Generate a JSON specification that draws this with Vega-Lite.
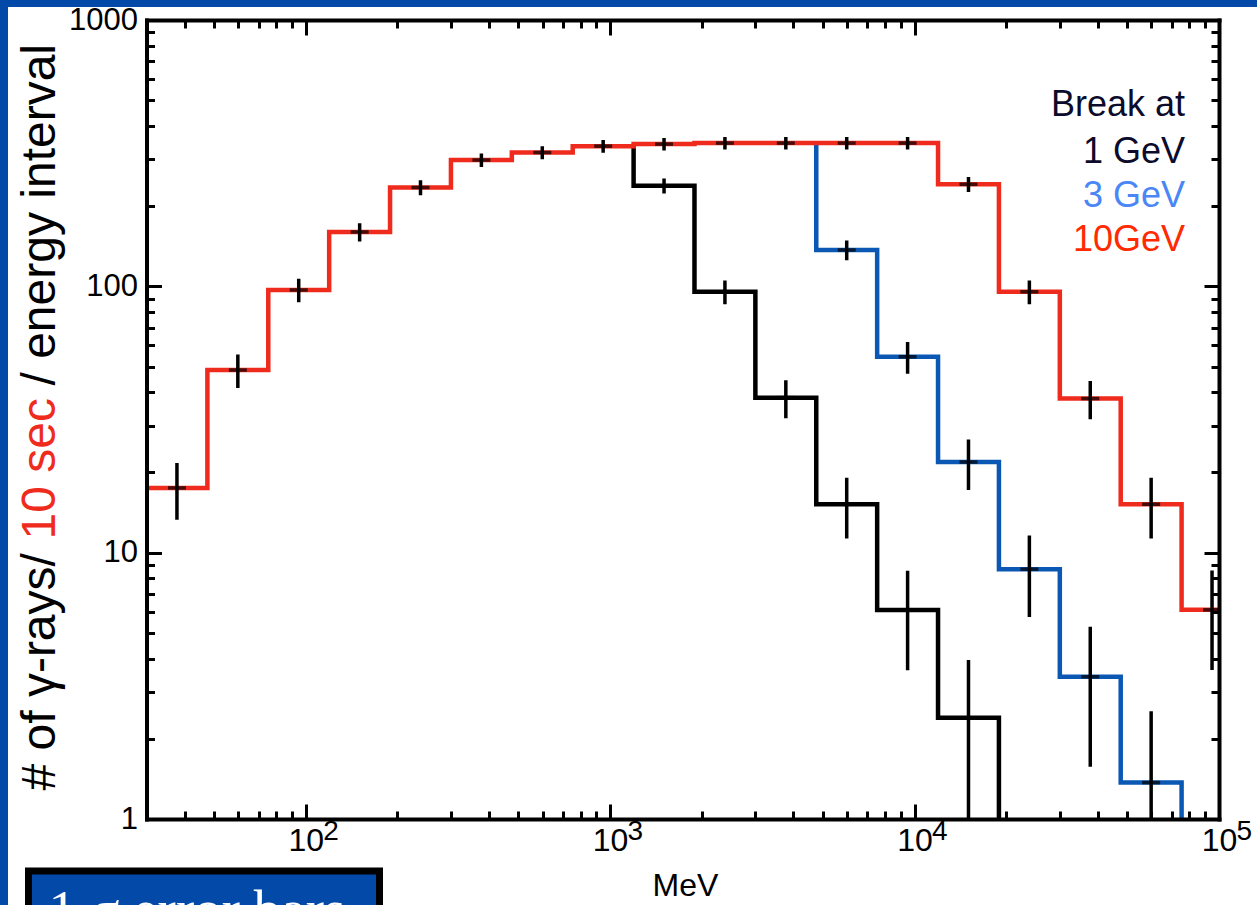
{
  "$schema": "https://vega.github.io/schema/vega-lite/v6.json",
  "width": 1249,
  "height": 898,
  "autosize": {"type": "none"},
  "padding": {"left": 8, "top": 7, "right": 0, "bottom": 0},
  "background": "#0349a8",
  "view": {"fill": "white", "stroke": null},
  "datasets": {
    "lines": [
      {"series": "1 GeV", "i": 0, "E": 1194.3, "N": 342},
      {"series": "1 GeV", "i": 1, "E": 1194.3, "N": 238.6},
      {"series": "1 GeV", "i": 2, "E": 1892.8, "N": 95.4},
      {"series": "1 GeV", "i": 3, "E": 3000, "N": 38.2},
      {"series": "1 GeV", "i": 4, "E": 4754.7, "N": 15.2},
      {"series": "1 GeV", "i": 5, "E": 7535.7, "N": 6.09},
      {"series": "1 GeV", "i": 6, "E": 11943, "N": 2.4},
      {"series": "1 GeV", "i": 7, "E": 18928, "N": 1},
      {"series": "3 GeV", "i": 0, "E": 4754.7, "N": 345},
      {"series": "3 GeV", "i": 1, "E": 4754.7, "N": 136.9},
      {"series": "3 GeV", "i": 2, "E": 7535.7, "N": 54.4},
      {"series": "3 GeV", "i": 3, "E": 11943, "N": 21.9},
      {"series": "3 GeV", "i": 4, "E": 18928, "N": 8.67},
      {"series": "3 GeV", "i": 5, "E": 30000, "N": 3.42},
      {"series": "3 GeV", "i": 6, "E": 47547, "N": 1.37},
      {"series": "3 GeV", "i": 7, "E": 75357, "N": 1},
      {"series": "10GeV", "i": 0, "E": 30, "N": 17.5},
      {"series": "10GeV", "i": 1, "E": 47.55, "N": 48.5},
      {"series": "10GeV", "i": 2, "E": 75.36, "N": 96.9},
      {"series": "10GeV", "i": 3, "E": 119.43, "N": 160},
      {"series": "10GeV", "i": 4, "E": 189.28, "N": 235},
      {"series": "10GeV", "i": 5, "E": 300, "N": 298},
      {"series": "10GeV", "i": 6, "E": 475.47, "N": 318},
      {"series": "10GeV", "i": 7, "E": 753.57, "N": 336},
      {"series": "10GeV", "i": 8, "E": 1194.3, "N": 342},
      {"series": "10GeV", "i": 9, "E": 1892.8, "N": 345},
      {"series": "10GeV", "i": 10, "E": 3000, "N": 345},
      {"series": "10GeV", "i": 11, "E": 4754.7, "N": 345},
      {"series": "10GeV", "i": 12, "E": 7535.7, "N": 345},
      {"series": "10GeV", "i": 13, "E": 11943, "N": 241.6},
      {"series": "10GeV", "i": 14, "E": 18928, "N": 95.4},
      {"series": "10GeV", "i": 15, "E": 30000, "N": 37.9},
      {"series": "10GeV", "i": 16, "E": 47547, "N": 15.2},
      {"series": "10GeV", "i": 17, "E": 75357, "N": 6.1},
      {"series": "10GeV", "i": 18, "E": 100000, "N": 6.1}
    ],
    "errs": [
      {"kind": "1 σ error bars", "c": 37.77, "N": 17.5, "lo": 13.3, "hi": 21.7},
      {"kind": "1 σ error bars", "c": 59.86, "N": 48.5, "lo": 41.5, "hi": 55.5},
      {"kind": "1 σ error bars", "c": 94.87, "N": 96.9, "lo": 87.1, "hi": 106.7},
      {"kind": "1 σ error bars", "c": 150.4, "N": 160, "lo": 147.4, "hi": 172.6},
      {"kind": "1 σ error bars", "c": 238.3, "N": 235, "lo": 219.7, "hi": 250.3},
      {"kind": "1 σ error bars", "c": 377.7, "N": 298, "lo": 280.7, "hi": 315.3},
      {"kind": "1 σ error bars", "c": 598.6, "N": 318, "lo": 300.2, "hi": 335.8},
      {"kind": "1 σ error bars", "c": 948.7, "N": 336, "lo": 317.7, "hi": 354.3},
      {"kind": "1 σ error bars", "c": 1503.6, "N": 342, "lo": 323.5, "hi": 360.5},
      {"kind": "1 σ error bars", "c": 2383, "N": 345, "lo": 326.4, "hi": 363.6},
      {"kind": "1 σ error bars", "c": 3777, "N": 345, "lo": 326.4, "hi": 363.6},
      {"kind": "1 σ error bars", "c": 5986, "N": 345, "lo": 326.4, "hi": 363.6},
      {"kind": "1 σ error bars", "c": 9487, "N": 345, "lo": 326.4, "hi": 363.6},
      {"kind": "1 σ error bars", "c": 15036, "N": 241.6, "lo": 226.1, "hi": 257.1},
      {"kind": "1 σ error bars", "c": 23830, "N": 95.4, "lo": 85.6, "hi": 105.2},
      {"kind": "1 σ error bars", "c": 37768, "N": 37.9, "lo": 31.7, "hi": 44.1},
      {"kind": "1 σ error bars", "c": 59857, "N": 15.2, "lo": 11.3, "hi": 19.1},
      {"kind": "1 σ error bars", "c": 94868, "N": 6.1, "lo": 3.63, "hi": 8.57},
      {"kind": "1 σ error bars", "c": 1503.6, "N": 238.6, "lo": 223.2, "hi": 254.0},
      {"kind": "1 σ error bars", "c": 2383, "N": 95.4, "lo": 85.6, "hi": 105.2},
      {"kind": "1 σ error bars", "c": 3777, "N": 38.2, "lo": 32.0, "hi": 44.4},
      {"kind": "1 σ error bars", "c": 5986, "N": 15.2, "lo": 11.3, "hi": 19.1},
      {"kind": "1 σ error bars", "c": 9487, "N": 6.09, "lo": 3.62, "hi": 8.56},
      {"kind": "1 σ error bars", "c": 15036, "N": 2.4, "lo": 1, "hi": 3.95},
      {"kind": "1 σ error bars", "c": 5986, "N": 136.9, "lo": 125.2, "hi": 148.6},
      {"kind": "1 σ error bars", "c": 9487, "N": 54.4, "lo": 47.0, "hi": 61.8},
      {"kind": "1 σ error bars", "c": 15036, "N": 21.9, "lo": 17.2, "hi": 26.6},
      {"kind": "1 σ error bars", "c": 23830, "N": 8.67, "lo": 5.73, "hi": 11.6},
      {"kind": "1 σ error bars", "c": 37768, "N": 3.42, "lo": 1.57, "hi": 5.27},
      {"kind": "1 σ error bars", "c": 59857, "N": 1.37, "lo": 1, "hi": 2.54}
    ]
  },
  "layer": [
    {
      "data": {"name": "lines"},
      "transform": [{"filter": "datum.series == '1 GeV'"}],
      "mark": {"type": "line", "interpolate": "step-after", "strokeWidth": 4.5, "strokeCap": "butt", "strokeJoin": "miter"},
      "encoding": {
        "x": {"field": "E", "type": "quantitative", "scale": {"type": "log", "domain": [30, 100000], "range": [138.5, 1211], "nice": false},
          "axis": {"orient": "bottom", "offset": -86, "values": [40,50,60,70,80,90,100,200,300,400,500,600,700,800,900,1000,2000,3000,4000,5000,6000,7000,8000,9000,10000,20000,30000,40000,50000,60000,70000,80000,90000,100000],
            "labels": false, "title": null, "domain": true, "domainWidth": 4, "domainCap": "square", "ticks": true, "tickWidth": 3,
            "tickSize": {"condition": {"test": "abs(log(datum.value)/LN10 - round(log(datum.value)/LN10)) < 0.001", "value": -15}, "value": -8}, "zindex": 2}},
        "y": {"field": "N", "type": "quantitative", "scale": {"type": "log", "domain": [1, 1000], "range": [812, 13], "nice": false},
          "axis": {"orient": "left", "offset": -138.5, "values": [1,2,3,4,5,6,7,8,9,10,20,30,40,50,60,70,80,90,100,200,300,400,500,600,700,800,900,1000],
            "labels": false, "title": null, "domain": true, "domainWidth": 4, "domainCap": "square", "ticks": true, "tickWidth": 3,
            "tickSize": {"condition": {"test": "abs(log(datum.value)/LN10 - round(log(datum.value)/LN10)) < 0.001", "value": -15}, "value": -8}, "zindex": 2}},
        "order": {"field": "i", "type": "quantitative"},
        "color": {"field": "series", "type": "nominal",
          "scale": {"domain": ["1 GeV", "3 GeV", "10GeV"], "range": ["#000000", "#0a58b4", "#ef2b1e"]},
          "legend": {"orient": "none", "legendX": 1043, "legendY": 81, "title": "Break at", "titleAnchor": "end",
            "titleFont": "Liberation Sans", "titleFontSize": 36, "titleFontWeight": "normal", "titleColor": "#0b0b2b", "titlePadding": 10,
            "labelFont": "Liberation Sans", "labelFontSize": 36, "labelAlign": "right", "labelOffset": 0, "rowPadding": 8,
            "symbolSize": 0, "symbolOpacity": 0, "symbolStrokeWidth": 0, "padding": 0,
            "labelColor": {"expr": "datum.value == '3 GeV' ? '#4a86f5' : datum.value == '10GeV' ? '#ff2a00' : '#0b0b2b'"}}}
      }
    },
    {
      "data": {"name": "lines"},
      "transform": [{"filter": "datum.series == '3 GeV'"}],
      "mark": {"type": "line", "interpolate": "step-after", "strokeWidth": 4.5, "strokeCap": "butt", "strokeJoin": "miter"},
      "encoding": {
        "x": {"field": "E", "type": "quantitative", "scale": {"type": "log", "domain": [30, 100000], "range": [138.5, 1211], "nice": false},
          "axis": {"orient": "top", "offset": -13, "values": [40,50,60,70,80,90,100,200,300,400,500,600,700,800,900,1000,2000,3000,4000,5000,6000,7000,8000,9000,10000,20000,30000,40000,50000,60000,70000,80000,90000,100000],
            "labels": false, "title": null, "domain": true, "domainWidth": 4, "domainCap": "square", "ticks": true, "tickWidth": 3,
            "tickSize": {"condition": {"test": "abs(log(datum.value)/LN10 - round(log(datum.value)/LN10)) < 0.001", "value": -15}, "value": -8}, "zindex": 2}},
        "y": {"field": "N", "type": "quantitative", "scale": {"type": "log", "domain": [1, 1000], "range": [812, 13], "nice": false},
          "axis": {"orient": "right", "offset": -38, "values": [1,2,3,4,5,6,7,8,9,10,20,30,40,50,60,70,80,90,100,200,300,400,500,600,700,800,900,1000],
            "labels": false, "title": null, "domain": true, "domainWidth": 4, "domainCap": "square", "ticks": true, "tickWidth": 3,
            "tickSize": {"condition": {"test": "abs(log(datum.value)/LN10 - round(log(datum.value)/LN10)) < 0.001", "value": -15}, "value": -8}, "zindex": 2}},
        "order": {"field": "i", "type": "quantitative"},
        "color": {"field": "series", "type": "nominal", "scale": {"domain": ["1 GeV", "3 GeV", "10GeV"], "range": ["#000000", "#0a58b4", "#ef2b1e"]}}
      }
    },
    {
      "data": {"name": "lines"},
      "transform": [{"filter": "datum.series == '10GeV'"}],
      "mark": {"type": "line", "interpolate": "step-after", "strokeWidth": 4.5, "strokeCap": "butt", "strokeJoin": "miter"},
      "encoding": {
        "x": {"field": "E", "type": "quantitative", "scale": {"type": "log", "domain": [30, 100000], "range": [138.5, 1211], "nice": false},
          "axis": {"orient": "bottom", "offset": -86, "values": [100, 1000, 10000, 100000], "ticks": false, "tickSize": 0, "domain": false,
            "labelExpr": "'10'", "labelFontSize": 32, "labelPadding": 6, "labelBaseline": "top", "labelAlign": "center",
            "title": "MeV", "titleFontSize": 32, "titleX": 677, "titleY": 66, "titleBaseline": "middle", "titleAlign": "center"}},
        "y": {"field": "N", "type": "quantitative", "scale": {"type": "log", "domain": [1, 1000], "range": [812, 13], "nice": false},
          "axis": {"orient": "left", "offset": -138.5, "values": [1, 10, 100, 1000], "format": "d", "ticks": false, "tickSize": 0, "domain": false,
            "labelFontSize": 31, "labelPadding": 9, "labelBaseline": "middle",
            "title": "# of γ-rays/", "titleFontSize": 48, "titleAngle": 270, "titleAlign": "left", "titleBaseline": "middle", "titleX": -106.5, "titleY": 783}},
        "order": {"field": "i", "type": "quantitative"},
        "color": {"field": "series", "type": "nominal", "scale": {"domain": ["1 GeV", "3 GeV", "10GeV"], "range": ["#000000", "#0a58b4", "#ef2b1e"]}}
      }
    },
    {
      "data": {"name": "errs"},
      "mark": {"type": "rule", "strokeWidth": 3.5, "color": "black"},
      "encoding": {
        "x": {"field": "c", "type": "quantitative", "scale": {"type": "log", "domain": [30, 100000], "range": [138.5, 1211], "nice": false},
          "axis": {"orient": "bottom", "offset": -86, "values": [100, 1000, 10000, 100000], "ticks": false, "tickSize": 0, "domain": false,
            "labelExpr": "'' + round(log(datum.value)/LN10)", "labelFontSize": 28, "labelAlign": "left", "labelOffset": 17, "labelPadding": -2, "labelBaseline": "top", "title": null}},
        "y": {"field": "lo", "type": "quantitative", "scale": {"type": "log", "domain": [1, 1000], "range": [812, 13], "nice": false},
          "axis": {"orient": "left", "offset": -138.5, "labels": false, "ticks": false, "domain": false,
            "title": "10 sec", "titleColor": "#ef2b1e", "titleFontSize": 48, "titleAngle": 270, "titleAlign": "left", "titleBaseline": "middle", "titleX": -106.5, "titleY": 532}},
        "y2": {"field": "hi"},
        "strokeDash": {"field": "kind", "type": "nominal", "scale": {"range": [[1, 0]]},
          "legend": {"orient": "none", "legendX": 20.5, "legendY": 864, "fillColor": "#0349a8", "strokeColor": "black", "padding": 12,
            "title": ".", "titleOrient": "right", "titlePadding": 18, "titleFontSize": 12, "titleColor": "#0349a8",
            "labelFont": "Liberation Serif", "labelFontSize": 55, "labelColor": "white", "labelLimit": 0, "symbolOpacity": 0, "symbolSize": 0, "symbolStrokeWidth": 0, "labelOffset": -47}}
      }
    },
    {
      "data": {"name": "errs"},
      "mark": {"type": "tick", "orient": "horizontal", "size": 18, "thickness": 3.5, "color": "black"},
      "encoding": {
        "x": {"field": "c", "type": "quantitative", "scale": {"type": "log", "domain": [30, 100000], "range": [138.5, 1211], "nice": false}, "axis": null},
        "y": {"field": "N", "type": "quantitative", "scale": {"type": "log", "domain": [1, 1000], "range": [812, 13], "nice": false},
          "axis": {"orient": "left", "offset": -138.5, "labels": false, "ticks": false, "domain": false,
            "title": "/ energy interval", "titleFontSize": 48, "titleAngle": 270, "titleAlign": "left", "titleBaseline": "middle", "titleX": -106.5, "titleY": 378}}
      }
    }
  ],
  "resolve": {"axis": {"x": "independent", "y": "independent"}},
  "config": {
    "axis": {"grid": false, "labelFont": "Liberation Sans", "titleFont": "Liberation Sans", "labelColor": "black", "titleColor": "black",
      "titleFontWeight": "normal", "domainColor": "black", "tickColor": "black", "labelFlush": false, "labelOverlap": false, "labelBound": false},
    "legend": {"strokeWidth": 7}
  }
}
